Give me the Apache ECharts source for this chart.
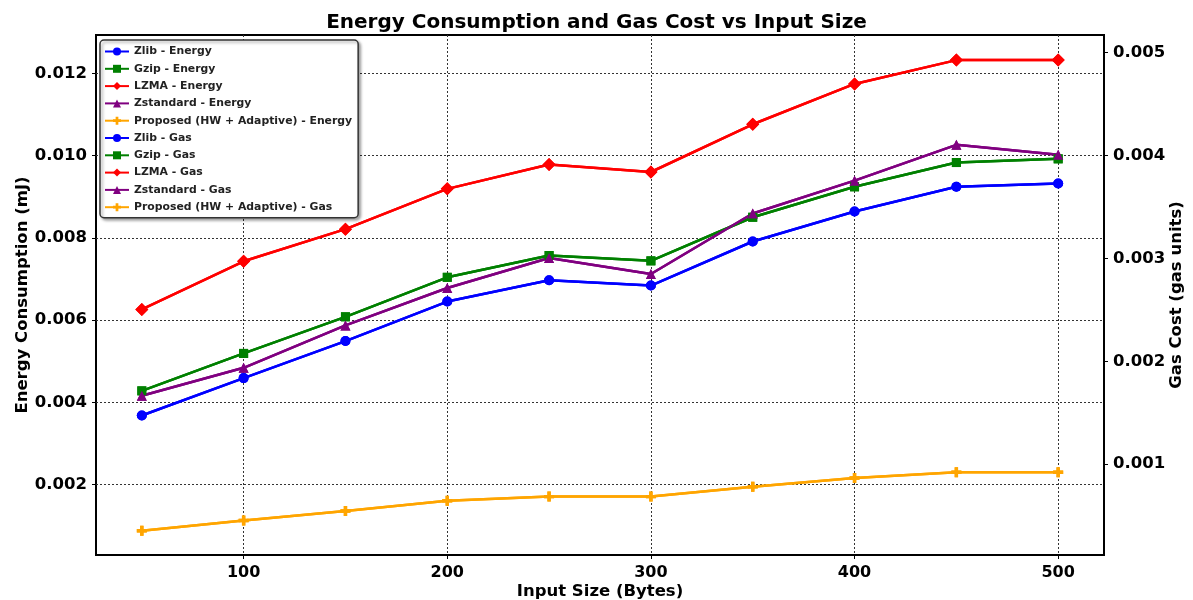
<!DOCTYPE html>
<html>
<head>
<meta charset="utf-8">
<title>Energy Consumption and Gas Cost vs Input Size</title>
<script src="https://cdn.jsdelivr.net/npm/echarts@6/dist/echarts.min.js"></script>
<style>
  html, body { margin: 0; padding: 0; background: #ffffff; }
  #chart { width: 1193px; height: 600px; }
</style>
</head>
<body>
<div id="chart"></div>
<script>
// Input sizes (bytes)
const inputSizes = [50, 100, 150, 200, 250, 300, 350, 400, 450, 500];

// Energy consumption (mJ)
const zlibEnergy     = [0.00368, 0.00459, 0.00549, 0.00645, 0.00697, 0.00684, 0.00791, 0.00864, 0.00924, 0.00932];
const gzipEnergy     = [0.00428, 0.00519, 0.00608, 0.00704, 0.00757, 0.00744, 0.00850, 0.00924, 0.00983, 0.00992];
const lzmaEnergy     = [0.00626, 0.00743, 0.00821, 0.00919, 0.00978, 0.00960, 0.01076, 0.01174, 0.01232, 0.01232];
const zstdEnergy     = [0.00416, 0.00484, 0.00587, 0.00678, 0.00751, 0.00712, 0.00859, 0.00939, 0.01026, 0.01002];
const proposedEnergy = [0.00088, 0.00113, 0.00136, 0.00161, 0.00171, 0.00171, 0.00195, 0.00216, 0.00230, 0.00230];

// Gas cost (gas units)
const zlibGas     = [0.001472, 0.001836, 0.002196, 0.002580, 0.002788, 0.002736, 0.003164, 0.003456, 0.003696, 0.003728];
const gzipGas     = [0.001712, 0.002076, 0.002432, 0.002816, 0.003028, 0.002976, 0.003400, 0.003696, 0.003932, 0.003968];
const lzmaGas     = [0.002504, 0.002972, 0.003284, 0.003676, 0.003912, 0.003840, 0.004304, 0.004696, 0.004928, 0.004928];
const zstdGas     = [0.001664, 0.001936, 0.002348, 0.002712, 0.003004, 0.002848, 0.003436, 0.003756, 0.004104, 0.004008];
const proposedGas = [0.000352, 0.000452, 0.000544, 0.000644, 0.000684, 0.000684, 0.000780, 0.000864, 0.000920, 0.000920];

// Tick labels
const xTicks      = [100, 200, 300, 400, 500];
const energyTicks = [0.002, 0.004, 0.006, 0.008, 0.010, 0.012];
const gasTicks    = [0.001, 0.002, 0.003, 0.004, 0.005];

// Axis ranges
const xRange      = [27.5, 522.5];
const energyRange = [0.00029, 0.01293];
const gasRange    = [0.000116, 0.005172];

const FONT = 'DejaVu Sans';
const PLUS = 'path://M3.3,0H6.7V3.3H10V6.7H6.7V10H3.3V6.7H0V3.3H3.3Z';

const methods = [
  { name: 'Zlib',                     color: '#0000ff', symbol: 'circle',   size: 10, energy: zlibEnergy,     gas: zlibGas },
  { name: 'Gzip',                     color: '#008000', symbol: 'rect',     size: 9,  energy: gzipEnergy,     gas: gzipGas },
  { name: 'LZMA',                     color: '#ff0000', symbol: 'diamond',  size: 13, energy: lzmaEnergy,     gas: lzmaGas },
  { name: 'Zstandard',                color: '#800080', symbol: 'triangle', size: 10, energy: zstdEnergy,     gas: zstdGas },
  { name: 'Proposed (HW + Adaptive)', color: '#ffa500', symbol: PLUS,       size: 10, energy: proposedEnergy, gas: proposedGas }
];

function pairs(ys) { return inputSizes.map((x, i) => [x, ys[i]]); }

function lineSeries(m, label, values, axisIndex) {
  return {
    name: m.name + ' - ' + label,
    type: 'line',
    yAxisIndex: axisIndex,
    data: pairs(values),
    symbol: m.symbol,
    symbolSize: m.size,
    showAllSymbol: true,
    lineStyle: { color: m.color, width: 2.5 },
    itemStyle: { color: m.color, borderWidth: 0 },
    emphasis: { disabled: true },
    animation: false,
    z: axisIndex === 1 ? 3 : 2
  };
}

const series = [];
methods.forEach(m => series.push(lineSeries(m, 'Energy', m.energy, 0)));
methods.forEach(m => series.push(lineSeries(m, 'Gas', m.gas, 1)));

const tickText = { fontFamily: FONT, fontWeight: 'bold', color: '#000' };
const nameText = { fontFamily: FONT, fontWeight: 'bold', fontSize: 16.5, color: '#000' };
const splitDash = { show: true, lineStyle: { color: '#333', width: 1, type: [2, 2] } };
const tickStyle = { color: '#000', width: 1 };

const option = {
  backgroundColor: '#ffffff',
  animation: false,
  title: {
    text: 'Energy Consumption and Gas Cost vs Input Size',
    left: 'center',
    top: 8,
    textStyle: { fontFamily: FONT, fontWeight: 'bold', fontSize: 20, color: '#000' }
  },
  grid: {
    left: 96, right: 89, top: 35, bottom: 45,
    outerBoundsMode: 'none',
    containLabel: false,
    show: true, borderColor: '#000', borderWidth: 2, backgroundColor: 'transparent'
  },
  legend: {
    orient: 'vertical',
    left: 100, top: 40,
    itemWidth: 24, itemHeight: 10, itemGap: 6.3,
    padding: [6, 6, 5, 4],
    backgroundColor: '#ffffff',
    borderColor: '#333', borderWidth: 1.5, borderRadius: 4,
    shadowColor: 'rgba(0,0,0,0.35)', shadowBlur: 3, shadowOffsetX: 2, shadowOffsetY: 2,
    textStyle: { fontFamily: FONT, fontWeight: 'bold', fontSize: 10.85, color: '#222' },
    data: series.map(s => s.name)
  },
  xAxis: {
    type: 'value',
    min: xRange[0], max: xRange[1],
    name: 'Input Size (Bytes)',
    nameLocation: 'middle', nameGap: 28, nameMoveOverlap: false,
    nameTextStyle: nameText,
    axisLine: { show: false },
    axisTick: { show: true, length: 4, customValues: xTicks, lineStyle: tickStyle },
    axisLabel: Object.assign({ fontSize: 16, margin: 10, customValues: xTicks, formatter: v => String(v) }, tickText),
    splitLine: splitDash
  },
  yAxis: [
    {
      type: 'value',
      min: energyRange[0], max: energyRange[1],
      name: 'Energy Consumption (mJ)',
      nameLocation: 'middle', nameGap: 65, nameRotate: 90, nameMoveOverlap: false,
      nameTextStyle: nameText,
      axisLine: { show: false },
      axisTick: { show: true, length: 4, customValues: energyTicks, lineStyle: tickStyle },
      axisLabel: Object.assign({ fontSize: 16.5, margin: 9, customValues: energyTicks, formatter: v => v.toFixed(3) }, tickText),
      splitLine: splitDash
    },
    {
      type: 'value',
      position: 'right',
      min: gasRange[0], max: gasRange[1],
      name: 'Gas Cost (gas units)',
      nameLocation: 'middle', nameGap: 64, nameRotate: 90, nameMoveOverlap: false,
      nameTextStyle: nameText,
      axisLine: { show: false },
      axisTick: { show: true, length: 4, customValues: gasTicks, lineStyle: tickStyle },
      axisLabel: Object.assign({ fontSize: 16.5, margin: 9, customValues: gasTicks, formatter: v => v.toFixed(3) }, tickText),
      splitLine: { show: false }
    }
  ],
  series: series
};

const chart = echarts.init(document.getElementById('chart'), null, { renderer: 'canvas' });
chart.setOption(option);
</script>
</body>
</html>
